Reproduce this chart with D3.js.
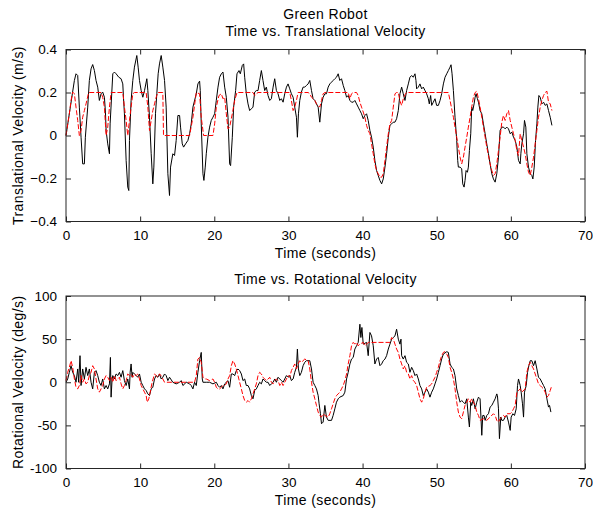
<!DOCTYPE html>
<html>
<head>
<meta charset="utf-8">
<script src="https://cdn.jsdelivr.net/npm/d3@7"></script>
<style>
  html, body { margin: 0; padding: 0; background: #fff; }
  svg { display: block; }
  text { font-family: "Liberation Sans", Arial, sans-serif; fill: #000; }
</style>
</head>
<body>
<svg id="chart" width="593" height="511"></svg>
<script>
// ---------------- data ----------------
const figureTitle = "Green Robot";
const transTitle = "Time vs. Translational Velocity";
const rotTitle = "Time vs. Rotational Velocity";
const xLabel = "Time (seconds)";
const transYLabel = "Translational Velocity (m/s)";
const rotYLabel = "Rotational Velocity (deg/s)";

const xTicks = [0, 10, 20, 30, 40, 50, 60, 70];
const transTicks = [-0.4, -0.2, 0, 0.2, 0.4];
const rotTicks = [-100, -50, 0, 50, 100];

// translational velocity, measured (black) [time s, m/s]
const transMeasured = [[0,0],[1.13,0.256],[1.35,0.287],[1.58,0.279],[1.80,0.132],[2.03,-0.008],[2.25,-0.132],[2.48,-0.132],[2.61,-0.008],[2.93,0.132],[3.15,0.256],[3.38,0.310],[3.60,0.330],[3.83,0.302],[4.05,0.256],[4.28,0.225],[4.50,0.163],[4.73,0.194],[4.95,0.202],[5.18,0.178],[5.32,0.109],[5.41,0.023],[5.63,-0.039],[5.86,-0.085],[5.95,0.054],[6.31,0.287],[6.53,0.295],[6.76,0.287],[7.12,0.271],[7.43,0.264],[7.66,0.240],[7.75,0.178],[7.88,0.101],[8.11,-0.116],[8.33,-0.240],[8.47,-0.256],[8.56,-0.023],[8.78,0.163],[9.01,0.256],[9.23,0.318],[9.55,0.372],[9.73,0.318],[9.91,0.256],[10.14,0.209],[10.36,0.178],[10.59,0.209],[10.90,0.264],[11.04,0.209],[11.26,0.085],[11.49,-0.085],[11.71,-0.225],[11.85,-0.147],[12.07,0.101],[12.25,0.194],[12.43,0.287],[12.61,0.333],[12.84,0.372],[13.06,0.318],[13.29,0.256],[13.51,0.132],[13.60,0.008],[13.74,-0.178],[13.96,-0.279],[14.10,-0.147],[14.41,-0.085],[14.64,-0.093],[14.86,-0.023],[15.09,0.093],[15.32,0.093],[15.45,0.039],[15.68,-0.039],[15.86,-0.054],[16.13,-0.039],[16.44,-0.023],[16.67,0.008],[16.89,0.054],[17.12,0.132],[17.57,0.194],[17.79,0.240],[18.02,0.253],[18.11,0.209],[18.24,0.054],[18.47,-0.178],[18.60,-0.209],[18.78,-0.147],[18.92,-0.085],[19.14,-0.008],[19.37,0.039],[19.59,0.070],[19.82,0.085],[20.05,0.101],[20.27,0.163],[20.50,0.225],[20.72,0.271],[20.95,0.287],[21.17,0.295],[21.40,0.225],[21.62,0.178],[21.85,0.085],[22.07,-0.132],[22.2,-0.140],[22.43,-0.008],[22.61,0.132],[22.88,0.209],[23.06,0.287],[23.33,0.302],[23.51,0.287],[23.78,0.326],[23.96,0.333],[24.10,0.271],[24.32,0.194],[24.55,0.147],[24.77,0.116],[25.0,0.124],[25.22,0.132],[25.45,0.202],[25.67,0.209],[25.90,0.209],[26.12,0.256],[26.35,0.302],[26.57,0.256],[26.80,0.209],[27.02,0.225],[27.25,0.186],[27.48,0.163],[27.70,0.171],[27.93,0.225],[28.15,0.264],[28.38,0.209],[28.60,0.194],[28.83,0.163],[29.05,0.171],[29.28,0.155],[29.50,0.194],[29.73,0.225],[29.95,0.240],[30.18,0.217],[30.40,0.194],[30.63,0.178],[30.85,0.132],[31.08,0.085],[31.21,-0.008],[31.35,0.101],[31.53,0.163],[31.75,0.202],[31.98,0.225],[32.20,0.225],[32.43,0.233],[32.66,0.240],[32.88,0.256],[33.11,0.209],[33.33,0.171],[33.56,0.163],[33.78,0.147],[34.01,0.132],[34.23,0.062],[34.46,0.147],[34.68,0.178],[34.91,0.194],[35.13,0.194],[35.36,0.225],[35.58,0.240],[35.81,0.248],[36.03,0.256],[36.26,0.264],[36.48,0.271],[36.71,0.287],[36.93,0.256],[37.16,0.264],[37.39,0.233],[37.61,0.209],[37.84,0.178],[38.06,0.186],[38.29,0.163],[38.51,0.155],[38.74,0.155],[38.96,0.163],[39.19,0.147],[39.41,0.132],[39.64,0.116],[39.86,0.101],[40.09,0.078],[40.31,0.093],[40.54,0.101],[40.76,0.070],[40.99,0.023],[41.21,-0.008],[41.44,-0.054],[41.66,-0.116],[41.89,-0.163],[42.11,-0.186],[42.34,-0.209],[42.57,-0.225],[42.79,-0.202],[43.02,-0.147],[43.24,-0.085],[43.47,-0.008],[43.69,0.047],[43.92,0.054],[44.14,0.062],[44.37,0.062],[44.59,0.078],[44.82,0.116],[45.04,0.194],[45.27,0.225],[45.49,0.194],[45.72,0.163],[45.94,0.209],[46.17,0.240],[46.39,0.271],[46.62,0.279],[46.84,0.271],[47.07,0.287],[47.20,0.256],[47.29,0.217],[47.52,0.225],[47.74,0.240],[47.97,0.217],[48.19,0.225],[48.42,0.209],[48.64,0.194],[48.87,0.171],[49.0,0.147],[49.18,0.186],[49.32,0.140],[49.54,0.155],[49.77,0.171],[49.99,0.140],[50.22,0.140],[50.45,0.163],[50.67,0.194],[50.90,0.240],[51.12,0.271],[51.35,0.287],[51.57,0.302],[51.80,0.318],[51.93,0.329],[52.07,0.287],[52.25,0.209],[52.47,0.085],[52.70,-0.023],[52.83,-0.116],[52.92,-0.147],[53.15,-0.147],[53.37,-0.155],[53.51,-0.225],[53.69,-0.240],[53.82,-0.209],[53.96,-0.163],[54.14,-0.171],[54.27,-0.147],[54.41,-0.070],[54.59,0.008],[54.72,0.132],[54.86,0.116],[55.04,0.147],[55.18,0.178],[55.31,0.194],[55.49,0.171],[55.63,0.155],[55.85,0.116],[56.08,0.101],[56.30,0.054],[56.53,0.008],[56.75,-0.039],[56.98,-0.085],[57.20,-0.132],[57.43,-0.178],[57.65,-0.202],[57.88,-0.217],[58.10,-0.178],[58.33,-0.101],[58.55,0.023],[58.78,0.039],[59.0,0.039],[59.23,0.031],[59.45,0.039],[59.68,0.031],[59.91,0.008],[60.13,0.016],[60.36,-0.008],[60.58,-0.023],[60.81,-0.054],[61.03,-0.116],[61.26,-0.132],[61.35,-0.085],[61.48,-0.039],[61.71,0.008],[61.84,0.070],[62.02,0.039],[62.16,-0.085],[62.38,-0.147],[62.61,-0.178],[62.83,-0.186],[62.97,-0.202],[63.15,-0.147],[63.33,-0.023],[63.51,0.054],[63.64,0.132],[63.78,0.186],[63.96,0.178],[64.18,0.147],[64.41,0.155],[64.63,0.140],[64.86,0.147],[65.08,0.116],[65.31,0.085],[65.54,0.047]];

// translational velocity, commanded (red dashed)
const transCommanded = [[0,0],[0.45,0.101],[0.68,0.163],[0.90,0.202],[1.13,0.194],[1.35,0.132],[1.58,0.070],[1.80,0],[2.03,0.023],[2.25,0.085],[2.48,0.116],[2.70,0.147],[3.06,0.2],[4.73,0.2],[4.95,0.178],[5.18,0.132],[5.41,0],[5.63,0.039],[5.86,0.132],[6.08,0.2],[7.66,0.2],[7.88,0.132],[8.11,0.070],[8.33,0],[8.56,0.070],[8.78,0.132],[9.01,0.194],[9.23,0.2],[10.81,0.2],[11.04,0.132],[11.26,0.023],[11.49,0.070],[11.71,0.116],[11.94,0.147],[12.16,0.178],[12.39,0.2],[13.06,0.2],[13.15,0],[16.67,0],[17.12,0.085],[17.57,0.2],[18.02,0.194],[18.24,0.085],[18.56,0],[19.82,0],[20.05,0.054],[20.27,0.132],[20.63,0.186],[20.95,0.194],[21.17,0.171],[21.40,0.178],[21.62,0.101],[21.85,0.031],[22.07,0.039],[22.43,0.101],[22.75,0.163],[23.06,0.2],[25.22,0.2],[25.45,0.186],[25.67,0.194],[25.9,0.2],[30.18,0.2],[30.40,0.163],[30.63,0.116],[30.85,0.132],[31.08,0.163],[31.30,0.2],[32.66,0.2],[32.88,0.194],[33.11,0.178],[33.56,0.163],[33.78,0.147],[34.01,0.140],[34.23,0.132],[34.46,0.163],[34.68,0.194],[34.91,0.2],[38.06,0.2],[38.29,0.171],[38.51,0.194],[38.74,0.2],[39.19,0.2],[39.41,0.186],[39.64,0.155],[39.86,0.132],[40.09,0.109],[40.31,0.085],[40.54,0.047],[40.76,0.023],[40.99,0.008],[41.21,-0.039],[41.44,-0.085],[41.66,-0.132],[41.89,-0.163],[42.11,-0.178],[42.34,-0.194],[42.57,-0.194],[42.79,-0.178],[43.02,-0.116],[43.24,-0.054],[43.47,0.008],[43.69,0.054],[43.92,0.070],[44.14,0.132],[44.37,0.194],[44.59,0.2],[44.82,0.2],[45.04,0.16],[45.27,0.14],[45.49,0.17],[45.72,0.19],[45.94,0.2],[51.57,0.2],[51.80,0.163],[52.02,0.124],[52.25,0.085],[52.47,0.039],[52.70,-0.008],[52.92,-0.054],[53.15,-0.101],[53.37,-0.132],[53.60,-0.101],[53.82,-0.054],[54.05,-0.008],[54.27,0.039],[54.50,0.085],[54.72,0.132],[54.95,0.178],[55.18,0.2],[55.40,0.206],[55.63,0.171],[55.85,0.132],[56.08,0.085],[56.30,0.039],[56.53,-0.008],[56.75,-0.054],[56.98,-0.093],[57.20,-0.132],[57.43,-0.163],[57.65,-0.186],[57.88,-0.178],[58.10,-0.132],[58.33,-0.070],[58.55,-0.008],[58.78,0.062],[59.0,0.093],[59.23,0.070],[59.45,0.101],[59.68,0.116],[59.91,0.070],[60.13,0.039],[60.36,0.008],[60.58,-0.023],[60.81,-0.070],[61.03,-0.093],[61.26,0.008],[61.48,-0.023],[61.71,-0.054],[61.93,-0.085],[62.16,-0.132],[62.38,-0.171],[62.61,-0.186],[62.83,-0.147],[63.06,-0.101],[63.28,-0.039],[63.51,0.023],[63.73,0.085],[63.96,0.132],[64.18,0.163],[64.41,0.186],[64.63,0.2],[64.86,0.206],[65.08,0.155],[65.31,0.147],[65.54,0.116]];

// rotational velocity, measured (black) [time s, deg/s]
const rotMeasured = [[0,0],[0.23,3.8],[0.45,11.5],[0.68,19.2],[0.90,11.5],[1.13,7.7],[1.35,0],[1.58,15.4],[1.71,0],[1.89,30.8],[2.03,-3.8],[2.25,15.4],[2.48,3.8],[2.70,17.3],[2.93,7.7],[3.15,15.4],[3.38,0],[3.60,-7.7],[3.83,11.5],[4.05,13.5],[4.28,7.7],[4.50,0],[4.73,-3.8],[4.95,3.8],[5.18,-7.7],[5.41,-3.8],[5.63,-7.7],[5.86,-1.9],[5.99,28.8],[6.08,-17.3],[6.22,3.8],[6.31,7.7],[6.53,3.8],[6.76,9.6],[6.98,7.7],[7.21,11.5],[7.43,5.8],[7.66,13.5],[7.88,1.9],[8.11,-3.8],[8.33,3.8],[8.56,-7.7],[8.65,11.5],[8.78,21.2],[8.92,5.8],[9.01,11.5],[9.23,9.6],[9.46,7.7],[9.68,5.8],[9.91,9.6],[10.14,0],[10.36,-3.8],[10.59,-7.7],[10.81,-9.6],[11.04,-13.5],[11.26,-15.4],[11.49,-7.7],[11.71,-5.8],[11.94,3.8],[12.16,7.7],[12.39,5.8],[12.61,9.6],[12.84,3.8],[13.06,5.8],[13.29,9.6],[13.51,7.7],[13.74,1.9],[13.96,5.8],[14.41,0],[14.86,-1.9],[15.32,0],[15.54,1.9],[15.77,-3.8],[16.22,0],[16.67,-1.9],[16.89,-3.8],[17.12,-7.7],[17.34,0],[17.57,-3.8],[17.79,11.5],[18.02,25],[18.24,34.6],[18.38,3.8],[18.47,0],[18.92,0],[19.37,0],[19.82,-1.9],[20.27,0],[20.50,-3.8],[20.72,-5.8],[20.95,-3.8],[21.17,-7.7],[21.40,-1.9],[21.62,0],[21.85,1.9],[22.07,-5.8],[22.3,9.6],[22.52,9.6],[22.75,7.7],[22.97,13.5],[23.20,15.4],[23.42,13.5],[23.65,9.6],[23.87,1.9],[24.10,3.8],[24.32,-3.8],[24.55,-3.8],[24.77,-7.7],[25.0,-15.4],[25.22,-19.2],[25.45,-9.6],[25.67,-7.7],[25.90,-3.8],[26.12,0],[26.35,-1.9],[26.57,3.8],[26.80,1.9],[27.02,0],[27.25,0],[27.48,-3.8],[27.70,-1.9],[27.93,0],[28.15,3.8],[28.38,0],[28.60,5.8],[28.83,3.8],[29.05,1.9],[29.28,0],[29.50,3.8],[29.73,7.7],[29.95,5.8],[30.18,7.7],[30.40,1.9],[30.63,3.8],[30.85,11.5],[31.08,17.3],[31.21,38.5],[31.35,15.4],[31.53,7.7],[31.75,11.5],[31.98,19.2],[32.20,23.1],[32.43,25],[32.88,25],[33.11,15.4],[33.33,0],[33.56,-3.8],[33.78,-7.7],[34.01,-15.4],[34.14,-25],[34.32,-36.5],[34.46,-48.1],[34.68,-46.2],[34.91,-26.9],[35.13,-40.4],[35.36,-44.2],[35.81,-44.2],[36.03,-38.5],[36.26,-30.8],[36.48,-23.1],[36.71,-19.2],[36.93,-17.3],[37.39,-15.4],[37.61,-11.5],[37.84,3.8],[38.06,11.5],[38.29,21.2],[38.51,26.9],[38.74,28.8],[38.96,38.5],[39.19,42.3],[39.41,46.2],[39.64,67.3],[39.77,51.9],[39.91,63.5],[40.09,44.2],[40.54,46.2],[40.76,30.8],[40.99,57.7],[41.21,53.8],[41.44,42.3],[41.66,21.2],[41.89,26.9],[42.11,28.8],[42.34,19.2],[42.57,21.2],[42.79,25],[43.02,26.9],[43.24,30.8],[43.47,38.5],[43.69,44.2],[43.92,50],[44.14,51.9],[44.37,53.8],[44.59,61.5],[44.82,50],[45.04,44.2],[45.18,50],[45.27,30.8],[45.49,26.9],[45.72,30.8],[45.94,23.1],[46.17,21.2],[46.39,11.5],[46.62,17.3],[46.84,13.5],[47.07,7.7],[47.29,9.6],[47.52,3.8],[47.74,-3.8],[47.97,-7.7],[48.19,-15.4],[48.42,-11.5],[48.64,-7.7],[48.87,-11.5],[49.09,-17.3],[49.32,-11.5],[49.54,-7.7],[49.77,-1.9],[49.99,3.8],[50.22,11.5],[50.45,19.2],[50.67,26.9],[50.90,32.7],[51.35,35.4],[51.57,34.6],[51.80,21.2],[52.02,17.3],[52.25,15.4],[52.47,7.7],[52.70,-7.7],[52.92,-15.4],[53.15,-23.1],[53.37,-21.2],[53.60,-23.1],[53.82,-25],[54.05,-19.2],[54.27,-40.4],[54.41,-51.9],[54.59,-23.1],[54.72,-26.9],[54.95,-19.2],[55.18,-30.8],[55.40,-23.1],[55.63,-17.3],[55.85,-19.2],[56.08,-61.5],[56.21,-38.5],[56.39,-38.5],[56.53,-44.2],[56.75,-38.5],[56.98,-36.5],[57.20,-28.8],[57.43,-26.9],[57.65,-23.1],[57.88,-19.2],[58.10,-13.5],[58.19,-15.4],[58.33,-30.8],[58.46,-65.4],[58.64,-40.4],[58.78,-44.2],[59.0,-44.2],[59.23,-40.4],[59.45,-38.5],[59.68,-46.2],[59.91,-55.8],[60.04,-40.4],[60.27,-36.5],[60.49,-38.5],[60.72,-30.8],[60.90,-3.8],[61.03,3.8],[61.26,-3.8],[61.39,-11.5],[61.57,-25],[61.71,-40.4],[61.84,-11.5],[62.07,-3.8],[62.25,11.5],[62.43,19.2],[62.61,25],[62.83,25],[63.06,19.2],[63.28,25],[63.51,15.4],[63.73,5.8],[63.96,3.8],[64.18,0],[64.41,-3.8],[64.63,-7.7],[64.86,-19.2],[65.08,-28.8],[65.22,-26.9],[65.40,-34.6]];

// rotational velocity, commanded (red dashed)
const rotCommanded = [[0,1.9],[0.23,11.5],[0.45,17.3],[0.68,25],[0.90,17.3],[1.13,3.8],[1.35,-5.8],[1.58,-7.7],[1.80,-3.8],[2.03,7.7],[2.25,0],[2.48,3.8],[2.70,-1.9],[2.93,0],[3.15,7.7],[3.38,11.5],[3.60,19.2],[3.83,15.4],[4.05,3.8],[4.28,-7.7],[4.50,-11.5],[4.73,-7.7],[4.95,-3.8],[5.18,3.8],[5.41,7.7],[5.63,5.8],[5.86,1.9],[6.08,5.8],[6.31,0],[6.53,7.7],[6.76,1.9],[6.98,3.8],[7.21,5.8],[7.43,-1.9],[7.66,-7.7],[7.88,-3.8],[8.11,1.9],[8.33,9.6],[8.56,7.7],[8.78,9.6],[9.01,5.8],[9.23,9.6],[9.46,7.7],[9.68,9.6],[9.91,3.8],[10.14,-3.8],[10.36,-7.7],[10.59,-11.5],[10.81,-15.4],[10.95,-23.1],[11.17,-19.2],[11.35,-11.5],[11.62,0],[11.94,9.6],[12.16,7.7],[12.39,5.8],[12.61,9.6],[12.84,7.7],[13.06,3.8],[13.29,0],[17.34,0],[17.57,7.7],[17.79,26.9],[18.02,28.8],[18.24,23.1],[18.47,5.8],[18.69,3.8],[18.92,3.8],[19.37,1.9],[19.82,3.8],[20.05,0],[20.27,-5.8],[20.50,-7.7],[20.72,-7.7],[20.95,-5.8],[21.17,-3.8],[21.40,-3.8],[21.62,-1.9],[21.85,3.8],[22.07,7.7],[22.3,19.2],[22.52,25],[22.75,21.2],[22.97,15.4],[23.20,7.7],[23.42,0],[23.65,-7.7],[23.87,-15.4],[24.10,-21.2],[24.32,-23.1],[24.55,-21.2],[24.77,-23.1],[25.0,-19.2],[25.22,-13.5],[25.45,-7.7],[25.67,-1.9],[25.90,7.7],[26.12,11.5],[26.35,9.6],[26.57,5.8],[26.80,3.8],[27.02,1.9],[27.25,3.8],[27.48,5.8],[27.70,0],[27.93,-1.9],[28.15,1.9],[28.38,3.8],[28.60,1.9],[28.83,-3.8],[29.05,0],[29.28,-3.8],[29.50,0],[29.73,3.8],[29.95,7.7],[30.18,5.8],[30.40,13.5],[30.63,17.3],[30.85,21.2],[31.08,15.4],[31.30,21.2],[31.53,25],[31.75,23.1],[32.20,26.9],[32.66,25],[32.88,15.4],[33.11,0],[33.33,-11.5],[33.56,-19.2],[33.78,-26.9],[34.01,-34.6],[34.23,-38.5],[34.46,-40.4],[34.68,-36.5],[34.91,-38.5],[35.36,-40.4],[35.58,-36.5],[35.81,-30.8],[36.03,-25],[36.26,-19.2],[36.48,-15.4],[36.71,-13.5],[36.93,-11.5],[37.16,-7.7],[37.39,-3.8],[37.61,1.9],[37.84,9.6],[38.06,21.2],[38.29,30.8],[38.51,42.3],[38.74,46.2],[38.96,44.2],[39.19,46.2],[39.41,42.3],[39.64,44.2],[40.09,46.2],[40.31,42.3],[40.54,44.2],[40.76,46.2],[43.69,46.2],[43.92,51.9],[44.14,50],[44.37,44.2],[44.59,38.5],[44.82,34.6],[45.04,26.9],[45.27,21.2],[45.49,15.4],[45.72,19.2],[45.94,11.5],[46.17,9.6],[46.39,3.8],[46.62,7.7],[46.84,1.9],[47.07,0],[47.29,-3.8],[47.52,-11.5],[47.74,-19.2],[47.97,-23.1],[48.19,-19.2],[48.42,-11.5],[48.64,-5.8],[49.09,-3.8],[49.32,-1.9],[49.54,1.9],[49.77,5.8],[49.99,11.5],[50.22,17.3],[50.45,25],[50.67,30.8],[50.90,34.6],[51.12,35.4],[51.35,32.7],[51.57,28.8],[51.80,17.3],[52.02,11.5],[52.25,3.8],[52.47,-7.7],[52.70,-23.1],[52.92,-34.6],[53.15,-40.4],[53.37,-42.3],[53.60,-34.6],[53.82,-26.9],[54.05,-23.1],[54.27,-19.2],[54.50,-23.1],[54.72,-19.2],[54.95,-23.1],[55.18,-26.9],[55.40,-34.6],[55.63,-38.5],[55.85,-44.2],[56.30,-42.3],[56.75,-44.2],[57.20,-40.4],[57.65,-36.5],[57.88,-38.5],[58.10,-44.2],[58.33,-46.2],[58.55,-42.3],[59.0,-38.5],[59.23,-40.4],[59.45,-36.5],[59.91,-36.5],[60.13,-34.6],[60.36,-30.8],[60.58,-26.9],[60.81,-11.5],[61.26,-7.7],[61.48,-11.5],[61.93,-7.7],[62.16,11.5],[62.38,19.2],[62.61,23.1],[62.83,19.2],[63.06,15.4],[63.28,9.6],[63.51,3.8],[63.73,-1.9],[63.96,-3.8],[64.18,-5.8],[64.41,-7.7],[64.63,-11.5],[64.86,-17.3],[65.08,-15.4],[65.31,-9.6],[65.45,-5.8]];

// ---------------- drawing ----------------
const svg = d3.select("#chart");
const plotLeft = 66, plotRight = 585;
const panels = [
  { top: 49.5, bottom: 221.5, domain: [-0.4, 0.4], ticks: transTicks, title: transTitle,
    ylabel: transYLabel, measured: transMeasured, commanded: transCommanded, fmt: d => (d === 0 ? "0" : d3.format(".1f")(d)) },
  { top: 296, bottom: 468.5, domain: [-100, 100], ticks: rotTicks, title: rotTitle,
    ylabel: rotYLabel, measured: rotMeasured, commanded: rotCommanded, fmt: d => String(d) }
];

const x = d3.scaleLinear().domain([0, 70]).range([plotLeft, plotRight]);
const labelFont = "14px";
const tickFont = "13.5px";

svg.append("text").attr("x", (plotLeft + plotRight) / 2).attr("y", 18.5)
  .attr("text-anchor", "middle").style("font-size", labelFont).style("letter-spacing", "0.4px")
  .text(figureTitle);

panels.forEach((p, i) => {
  const y = d3.scaleLinear().domain(p.domain).range([p.bottom, p.top]);
  const g = svg.append("g");

  // data lines
  const line = d3.line().x(d => x(d[0])).y(d => y(d[1]));
  g.append("path").datum(p.measured).attr("d", line)
    .attr("fill", "none").attr("stroke", "#000").attr("stroke-width", 1);
  g.append("path").datum(p.commanded).attr("d", line)
    .attr("fill", "none").attr("stroke", "#ff0000").attr("stroke-width", 1)
    .attr("stroke-dasharray", "5,2");

  // axes (ticks inward, MATLAB style)
  const tl = 5;
  const axB = g.append("g").attr("transform", `translate(0,${p.bottom})`)
    .call(d3.axisBottom(x).tickValues(xTicks).tickSize(-tl).tickPadding(9).tickFormat(d3.format("d")));
  const axT = g.append("g").attr("transform", `translate(0,${p.top})`)
    .call(d3.axisTop(x).tickValues(xTicks).tickSize(-tl).tickFormat(""));
  const axL = g.append("g").attr("transform", `translate(${plotLeft},0)`)
    .call(d3.axisLeft(y).tickValues(p.ticks).tickSize(-tl).tickPadding(9).tickFormat(p.fmt));
  const axR = g.append("g").attr("transform", `translate(${plotRight},0)`)
    .call(d3.axisRight(y).tickValues(p.ticks).tickSize(-tl).tickFormat(""));
  [axB, axT, axL, axR].forEach(a => {
    a.select(".domain").remove();
    a.selectAll("line").attr("stroke", "#262626");
    a.selectAll("text").style("font-size", tickFont)
      .style("font-family", '"Liberation Sans", Arial, sans-serif').attr("fill", "#000");
  });
  axB.selectAll("text").attr("dy", "0.71em");

  // box
  g.append("rect").attr("x", plotLeft).attr("y", p.top)
    .attr("width", plotRight - plotLeft).attr("height", p.bottom - p.top)
    .attr("fill", "none").attr("stroke", "#262626").attr("stroke-width", 1);

  // titles and labels
  g.append("text").attr("x", (plotLeft + plotRight) / 2).attr("y", i === 0 ? 36 : 284)
    .attr("text-anchor", "middle").style("font-size", labelFont).style("letter-spacing", "0.4px")
    .text(p.title);
  g.append("text").attr("x", (plotLeft + plotRight) / 2).attr("y", p.bottom + 36.5)
    .attr("text-anchor", "middle").style("font-size", labelFont).style("letter-spacing", "0.4px")
    .text(xLabel);
  g.append("text")
    .attr("transform", `translate(23,${(p.top + p.bottom) / 2}) rotate(-90)`)
    .attr("text-anchor", "middle").style("font-size", labelFont).style("letter-spacing", "0.4px")
    .text(p.ylabel);
});
</script>
</body>
</html>
